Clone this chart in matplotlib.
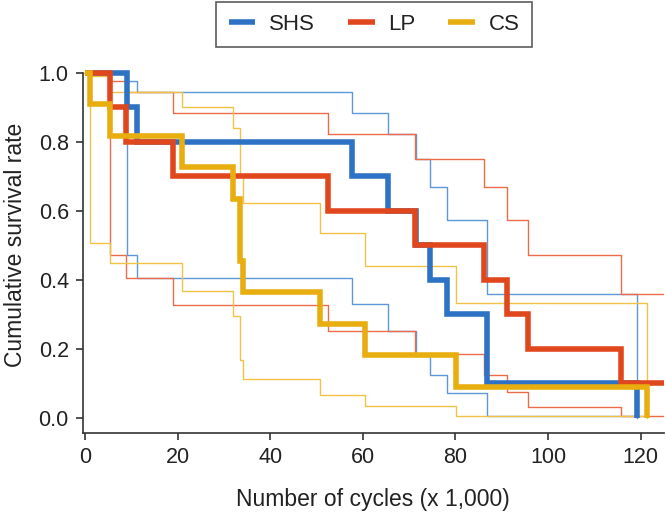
import numpy as np
import matplotlib
matplotlib.use("Agg")
import matplotlib.pyplot as plt
from matplotlib.lines import Line2D

plt.rcParams['font.family'] = ['Liberation Sans', 'DejaVu Sans']

# Kaplan-Meier curves (x in thousands of cycles)
shs_time = [0, 9.1, 11.3, 57.7, 65.5, 71.5, 74.5, 78.2, 86.8, 119.2]
shs_surv = [1.0, 0.9, 0.8, 0.7, 0.6, 0.5, 0.4, 0.3, 0.1, 0.0]
shs_upper = [1.0, 0.977, 0.945, 0.884, 0.823, 0.75, 0.67, 0.574, 0.36, 0.0]
shs_lower = [1.0, 0.472, 0.405, 0.33, 0.252, 0.18, 0.125, 0.072, 0.005, 0.005]

lp_time = [0, 5.4, 8.8, 18.9, 52.5, 71.2, 86.2, 91.2, 95.6, 115.8, 125]
lp_surv = [1.0, 0.9, 0.8, 0.7, 0.6, 0.5, 0.4, 0.3, 0.2, 0.1, 0.1]
lp_upper = [1.0, 0.977, 0.945, 0.884, 0.823, 0.75, 0.67, 0.574, 0.472, 0.36, 0.36]
lp_lower = [1.0, 0.472, 0.405, 0.328, 0.252, 0.185, 0.125, 0.075, 0.032, 0.006, 0.006]

cs_time = [0, 1.0, 5.3, 20.9, 32.0, 33.4, 34.2, 50.8, 60.5, 80.1, 121.3]
cs_surv = [1.0, 0.909, 0.818, 0.727, 0.636, 0.455, 0.364, 0.273, 0.182, 0.091, 0.0]
cs_upper = [1.0, 0.99, 0.945, 0.90, 0.84, 0.70, 0.623, 0.537, 0.44, 0.333, 0.0]
cs_lower = [1.0, 0.507, 0.45, 0.368, 0.296, 0.168, 0.113, 0.067, 0.035, 0.005, 0.005]

labels = ["SHS", "LP", "CS"]
colors = ["#2D72C4", "#E1471D", "#E8AE0F"]
light = ["#5E98DB", "#EE6B4A", "#F0C246"]

fig = plt.figure(figsize=(6.66, 5.15), dpi=100)
ax = fig.add_axes([0.1242, 0.1583, 0.8724, 0.7335])

groups = [
    (shs_time, shs_surv, shs_upper, shs_lower),
    (lp_time, lp_surv, lp_upper, lp_lower),
    (cs_time, cs_surv, cs_upper, cs_lower),
]

# thin confidence limits first, thick curves on top
for i, (t, s, up, lo) in enumerate(groups):
    ax.step(t, up, where='post', color=light[i], lw=1.0, zorder=2)
    ax.step(t, lo, where='post', color=light[i], lw=1.0, zorder=2)
for i, (t, s, up, lo) in enumerate(groups):
    ax.step(t, s, where='post', color=colors[i], lw=4.0, zorder=3 + i,
            solid_joinstyle='miter', solid_capstyle='butt')

ax.set_xlim(-0.5, 125)
ax.set_ylim(-0.045, 1.05)
ax.set_xticks([0, 20, 40, 60, 80, 100, 120])
ax.set_yticks([0.0, 0.2, 0.4, 0.6, 0.8, 1.0])
ax.set_yticklabels(["0.0", "0.2", "0.4", "0.6", "0.8", "1.0"])

for side in ['top', 'right']:
    ax.spines[side].set_visible(False)
for side in ['left', 'bottom']:
    ax.spines[side].set_color('#333333')
    ax.spines[side].set_linewidth(1.2)
ax.spines['left'].set_bounds(-0.045, 1.0)
ax.tick_params(direction='out', length=5, width=1.2, color='#333333',
               labelsize=15.5, labelcolor='#222222', pad=5)

ax.set_xlabel("Number of cycles (x 1,000)", fontsize=16.5, color='#222222', labelpad=14)
ax.set_ylabel("Cumulative survival rate", fontsize=16.5, color='#222222', labelpad=8)

handles = [Line2D([], [], color=c, lw=4, solid_capstyle='butt') for c in colors]
leg = fig.legend(handles, labels, loc='upper center', bbox_to_anchor=(0.5616, 0.997),
                 ncol=3, fontsize=16, frameon=True, fancybox=False,
                 handlelength=1.2, handletextpad=0.6, columnspacing=1.5,
                 borderpad=0.55, borderaxespad=0)
leg.get_frame().set_edgecolor('#333333')
leg.get_frame().set_linewidth(1.2)
for txt in leg.get_texts():
    txt.set_color('#222222')

fig.savefig("out.png", dpi=100)
